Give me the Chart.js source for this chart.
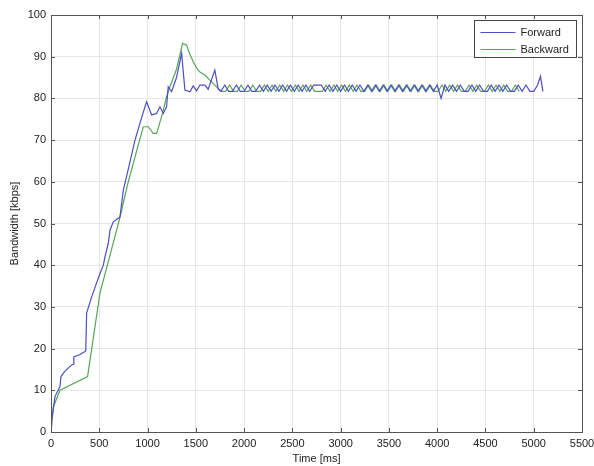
<!DOCTYPE html>
<html>
<head>
<meta charset="utf-8">
<script src="https://cdn.jsdelivr.net/npm/chart.js@4/dist/chart.umd.min.js"></script>
<style>
  html, body { margin: 0; padding: 0; background: #fff; }
  #wrap { width: 594px; height: 466px; position: relative; }
</style>
</head>
<body>
<div id="wrap"><canvas id="c" width="594" height="466"></canvas></div>
<script>
// ---- data ----
const seriesLabels = ["Forward", "Backward"];
const xTickStep = 500;   // Time [ms]
const yTickStep = 10;    // Bandwidth [kbps]

const fwdT = [0, 7, 41, 93, 103, 140, 200, 231, 236, 300, 352, 360, 369, 421, 507, 542, 559, 593, 611, 645, 680, 714, 749, 800, 870, 940, 990, 1042, 1094, 1128, 1163, 1197, 1214, 1249, 1300, 1353, 1387, 1439, 1473, 1508, 1542, 1594, 1628, 1697, 1732,
  1760, 1800, 1840, 1880, 1920, 1960, 2000, 2040, 2080, 2120, 2160, 2200, 2240, 2280, 2320, 2360, 2400, 2440, 2480, 2520, 2560, 2600, 2640, 2680, 2720, 2760, 2800, 2840, 2880, 2920, 2960, 3000, 3040, 3080, 3120, 3160, 3200, 3240, 3280, 3320, 3360, 3400, 3440, 3480, 3520, 3560, 3600, 3640, 3680, 3720, 3760, 3800, 3840, 3880, 3920, 3960, 4000, 4040, 4080, 4120, 4160, 4200, 4240, 4280, 4320, 4360, 4400, 4440, 4480, 4520, 4560, 4600, 4640, 4680, 4720, 4760, 4800, 4840, 4880, 4920, 4960, 5000, 5040, 5070, 5095];
const fwdV = [1.5, 2.5, 8.5, 10.9, 13.3, 14.5, 15.8, 16.3, 18, 18.6, 19.3, 19.5, 28.5, 32.4, 38, 40, 42, 45.2, 48.4, 50.4, 51, 51.5, 58, 63, 70, 75.5, 79.2, 76, 76.4, 78, 76.4, 78, 82.8, 81.6, 85, 90.8, 82, 81.6, 83, 81.8, 83.2, 83.2, 82.2, 86.8, 82.2,
  81.7, 83.2, 81.7, 81.7, 83.2, 81.7, 81.7, 83.2, 81.7, 81.7, 83.2, 81.7, 83.2, 81.7, 83.2, 81.7, 83.2, 81.7, 83.2, 81.7, 83.2, 81.7, 83.2, 81.7, 83.2, 83.2, 83.2, 81.7, 83.2, 81.7, 83.2, 81.7, 83.2, 81.7, 83.2, 81.7, 83.2, 81.7, 83.2, 81.7, 83.2, 81.7, 83.2, 81.7, 83.2, 81.7, 83.2, 81.7, 83.2, 81.7, 83.2, 81.7, 83.2, 81.7, 83.2, 81.7, 83.2, 80.0, 83.2, 81.7, 83.2, 81.7, 83.2, 81.7, 81.7, 83.2, 81.7, 83.2, 81.7, 81.7, 83.2, 81.7, 83.2, 81.7, 83.2, 81.7, 81.7, 83.2, 81.7, 83.2, 81.7, 81.7, 83.2, 85.3, 81.7];

const bwdT = [0, 24, 93, 379, 507, 680, 714, 800, 900, 956, 1007, 1059, 1094, 1150, 1197, 1232, 1300, 1363, 1404, 1440, 1473, 1508, 1542, 1594, 1646, 1697, 1749,
  1770, 1810, 1850, 1890, 1930, 1970, 2010, 2050, 2090, 2130, 2170, 2210, 2250, 2290, 2330, 2370, 2410, 2450, 2490, 2530, 2570, 2610, 2650, 2690, 2730, 2770, 2810, 2850, 2890, 2930, 2970, 3010, 3050, 3090, 3130, 3170, 3210, 3250, 3290, 3330, 3370, 3410, 3450, 3490, 3530, 3570, 3610, 3650, 3690, 3730, 3770, 3810, 3850, 3890, 3930, 3970, 4010, 4050, 4090, 4130, 4170, 4210, 4250, 4290, 4330, 4370, 4410, 4450, 4490, 4530, 4570, 4610, 4650, 4690, 4730, 4770, 4810, 4850, 4890, 4930, 4970];
const bwdV = [0.5, 6, 10, 13.3, 33.3, 48.4, 51.5, 60, 68.5, 73.2, 73.2, 71.6, 71.6, 76, 80.4, 82.8, 87, 93.2, 92.8, 90.5, 88.8, 87.3, 86.3, 85.6, 84.4, 83.2, 82,
  81.7, 81.7, 83.2, 81.7, 81.7, 83.2, 81.7, 81.7, 83.2, 81.7, 81.7, 83.2, 81.7, 83.2, 81.7, 83.2, 81.7, 83.2, 81.7, 83.2, 81.7, 83.2, 81.7, 83.2, 81.7, 81.7, 81.7, 83.2, 81.7, 83.2, 81.7, 83.2, 81.7, 83.2, 81.7, 83.2, 81.7, 81.7, 83.2, 81.7, 83.2, 81.7, 83.2, 81.7, 83.2, 81.7, 83.2, 81.7, 83.2, 81.7, 83.2, 81.7, 83.2, 81.7, 83.2, 81.7, 81.7, 83.2, 81.7, 83.2, 81.7, 83.2, 81.7, 81.7, 83.2, 81.7, 83.2, 81.7, 81.7, 83.2, 81.7, 83.2, 81.7, 83.2, 81.7, 81.7, 83.2, 81.7];

// ---- build datasets ----
const toPts = (ts, vs) => ts.map((t, i) => ({ x: t, y: vs[i] }));
const FONT = '"Liberation Sans", Arial, Helvetica, sans-serif';
const colors = ['#4d4dc8', '#55a755'];

const framePlugin = {
  id: 'frame',
  afterDraw(chart) {
    const { ctx, chartArea: a, scales } = chart;
    ctx.save();
    // inward ticks
    ctx.strokeStyle = '#555';
    ctx.lineWidth = 1;
    ctx.beginPath();
    scales.x.ticks.forEach(t => {
      const px = Math.round(scales.x.getPixelForValue(t.value)) + 0.5;
      ctx.moveTo(px, a.bottom); ctx.lineTo(px, a.bottom - 4);
      ctx.moveTo(px, a.top); ctx.lineTo(px, a.top + 4);
    });
    scales.y.ticks.forEach(t => {
      const py = Math.round(scales.y.getPixelForValue(t.value)) + 0.5;
      ctx.moveTo(a.left, py); ctx.lineTo(a.left + 4, py);
      ctx.moveTo(a.right, py); ctx.lineTo(a.right - 4, py);
    });
    ctx.stroke();
    // frame
    ctx.strokeStyle = '#555';
    ctx.strokeRect(Math.round(a.left) + 0.5, Math.round(a.top) + 0.5, Math.round(a.right - a.left), Math.round(a.bottom - a.top));
    // legend box (top-right inside)
    const bw = 102, bh = 37;
    const bx = Math.round(a.right - 6 - bw) + 0.5, by = Math.round(a.top + 5) + 0.5;
    ctx.fillStyle = '#fff';
    ctx.fillRect(bx, by, bw, bh);
    ctx.strokeStyle = '#444';
    ctx.strokeRect(bx, by, bw, bh);
    ctx.font = '11px ' + FONT;
    ctx.textBaseline = 'middle';
    ctx.textAlign = 'left';
    chart.data.datasets.forEach((ds, i) => {
      const yy = by + 12 + i * 17;
      ctx.strokeStyle = ds.borderColor;
      ctx.lineWidth = 1.2;
      ctx.beginPath();
      ctx.moveTo(bx + 6, yy); ctx.lineTo(bx + 41, yy);
      ctx.stroke();
      ctx.fillStyle = '#222';
      ctx.fillText(ds.label, bx + 46, yy);
    });
    ctx.restore();
  }
};

new Chart(document.getElementById('c'), {
  type: 'line',
  data: {
    datasets: [
      { label: seriesLabels[0], data: toPts(fwdT, fwdV), borderColor: colors[0], borderWidth: 1.2, pointRadius: 0, tension: 0, fill: false },
      { label: seriesLabels[1], data: toPts(bwdT, bwdV), borderColor: colors[1], borderWidth: 1.2, pointRadius: 0, tension: 0, fill: false }
    ]
  },
  options: {
    responsive: false,
    animation: false,
    layout: { padding: { top: 15, right: 12, left: 4, bottom: 0 } },
    plugins: { legend: { display: false }, tooltip: { enabled: false } },
    scales: {
      x: {
        type: 'linear', min: 0, max: 5500,
        ticks: { stepSize: xTickStep, color: '#222', font: { family: FONT, size: 11 }, padding: 5, maxRotation: 0, callback: v => String(v) },
        grid: { color: '#e6e6e6', drawTicks: false },
        border: { display: false },
        title: { display: true, text: 'Time [ms]', color: '#222', font: { family: FONT, size: 11 }, padding: { top: 0, bottom: 0 } },
        afterFit: s => { s.height = 34; s.paddingLeft = 0; s.paddingRight = 0; }
      },
      y: {
        type: 'linear', min: 0, max: 100,
        ticks: { stepSize: yTickStep, color: '#222', font: { family: FONT, size: 11 }, padding: 5, callback: v => String(v) },
        grid: { color: '#e6e6e6', drawTicks: false },
        border: { display: false },
        title: { display: true, text: 'Bandwidth [kbps]', color: '#222', font: { family: FONT, size: 11 }, padding: { top: 4, bottom: 2 } },
        afterFit: s => { s.width = 47; s.paddingTop = 0; s.paddingBottom = 0; }
      }
    }
  },
  plugins: [framePlugin]
});
</script>
</body>
</html>
